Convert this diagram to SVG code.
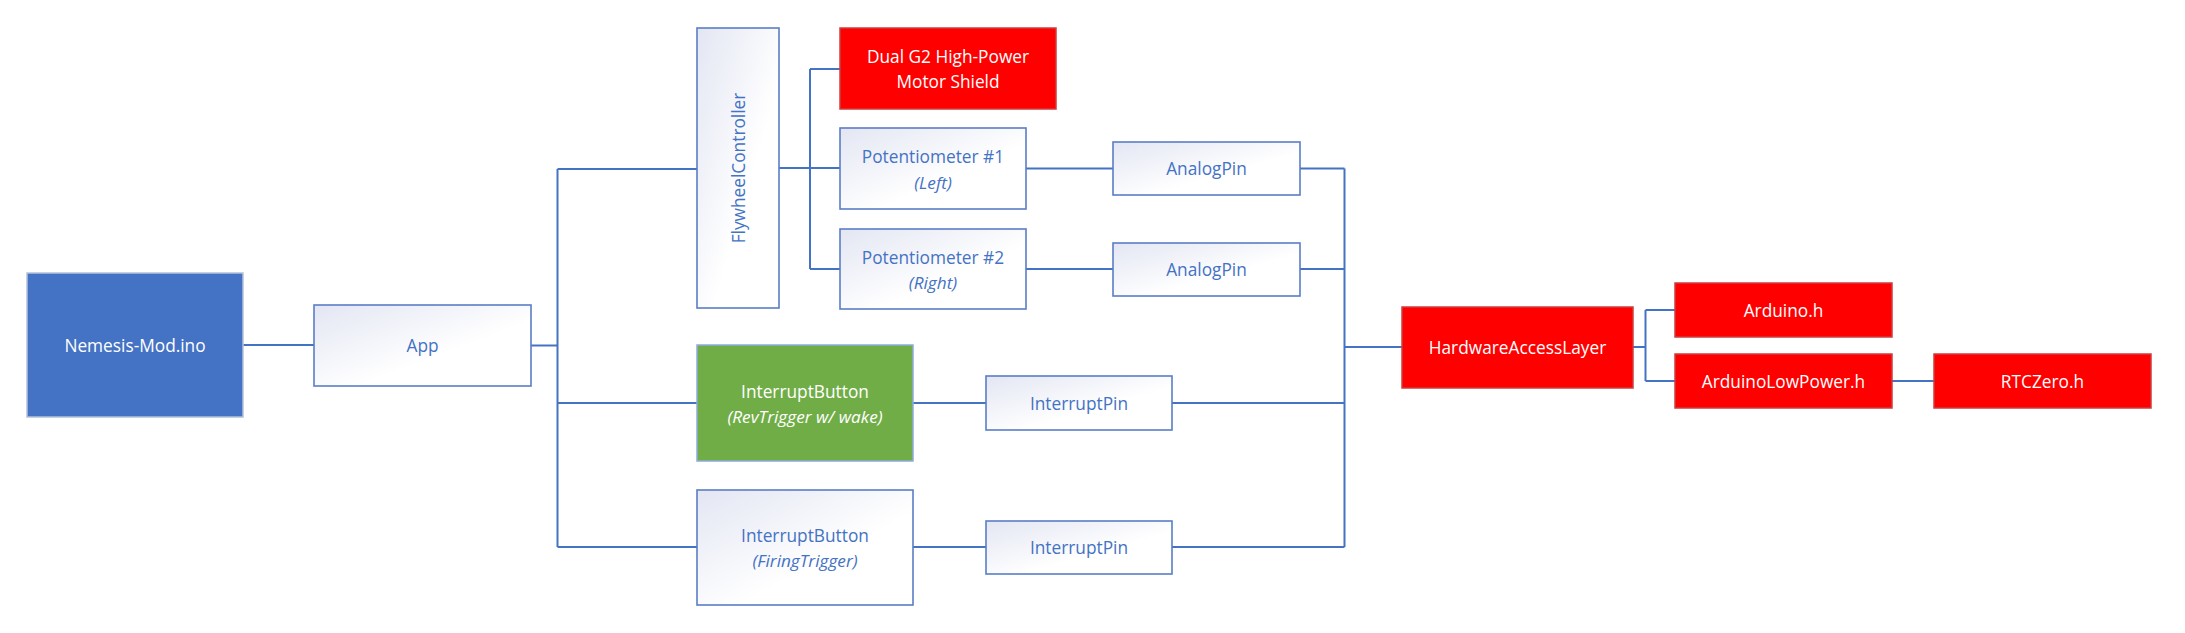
<svg xmlns="http://www.w3.org/2000/svg" width="2185" height="633" viewBox="0 0 2185 633">
<defs>
<linearGradient id="lg" x1="0" y1="0" x2="1" y2="1">
<stop offset="0" stop-color="#E3E6F3"/>
<stop offset="0.6" stop-color="#FFFFFF"/>
<stop offset="1" stop-color="#FFFFFF"/>
</linearGradient>
<style>
text{font-family:"Open Sans","Noto Sans","Liberation Sans",sans-serif;font-size:17.3px;text-anchor:middle;dominant-baseline:central}
.w rect{fill:url(#lg);stroke:#5A7EC6;stroke-width:1.6}
.w text{fill:#4472C4}
.r rect{fill:#FF0000;stroke:#D03C3C;stroke-width:1.5}
.r text,.g text,.b text{fill:#FFFFFF}
.g rect{fill:#70AD47;stroke:#8FAADC;stroke-width:1.5}
.b rect{fill:#4472C4;stroke:#B4C2DA;stroke-width:1.5}
.i{font-style:italic;font-size:17.2px}
#connectors path{fill:none;stroke:#4472C4;stroke-width:2}
</style>
</defs>
<rect width="2185" height="633" fill="#FFFFFF"/>
<g id="connectors">
<path d="M243,345 H314"/>
<path d="M531,345.5 H557.5"/>
<path d="M557.5,169 V547"/>
<path d="M557.5,169 H697"/>
<path d="M557.5,403 H697"/>
<path d="M557.5,547 H697"/>
<path d="M779,168 H810"/>
<path d="M810,69 V269"/>
<path d="M810,69 H840"/>
<path d="M810,168 H840"/>
<path d="M810,269 H840"/>
<path d="M1026,168.5 H1113"/>
<path d="M1026,269 H1113"/>
<path d="M1300,168.5 H1344.5"/>
<path d="M1300,269 H1344.5"/>
<path d="M913,403 H986"/>
<path d="M913,547 H986"/>
<path d="M1172,403 H1344.5"/>
<path d="M1172,547 H1344.5"/>
<path d="M1344.5,168.5 V547"/>
<path d="M1344.5,347 H1402"/>
<path d="M1633,347 H1645.5"/>
<path d="M1645.5,310 V381"/>
<path d="M1645.5,310 H1675"/>
<path d="M1645.5,381 H1675"/>
<path d="M1892,381 H1934"/>
</g>
<g id="nemesis" class="b"><rect x="27" y="273" width="216" height="144"/><text x="135" y="345">Nemesis-Mod.ino</text></g>
<g id="app" class="w"><rect x="314" y="305" width="217" height="81"/><text x="422.5" y="345.5">App</text></g>
<g id="flywheel" class="w"><rect x="697" y="28" width="82" height="280"/><text x="738" y="168" transform="rotate(-90 738 168)">FlywheelController</text></g>
<g id="motorshield" class="r"><rect x="840" y="28" width="216" height="81"/><text x="948" y="56.5">Dual G2 High-Power</text><text x="948" y="81">Motor Shield</text></g>
<g id="pot1" class="w"><rect x="840" y="128" width="186" height="81"/><text x="933" y="156.5">Potentiometer #1</text><text class="i" x="933" y="182.5">(Left)</text></g>
<g id="pot2" class="w"><rect x="840" y="229" width="186" height="80"/><text x="933" y="257">Potentiometer #2</text><text class="i" x="933" y="282.5">(Right)</text></g>
<g id="analogpin1" class="w"><rect x="1113" y="142" width="187" height="53"/><text x="1206.5" y="168.5">AnalogPin</text></g>
<g id="analogpin2" class="w"><rect x="1113" y="243" width="187" height="53"/><text x="1206.5" y="269.5">AnalogPin</text></g>
<g id="revbutton" class="g"><rect x="697" y="345" width="216" height="116"/><text x="805" y="391">InterruptButton</text><text class="i" x="805" y="416">(RevTrigger w/ wake)</text></g>
<g id="interruptpin1" class="w"><rect x="986" y="376" width="186" height="54"/><text x="1079" y="403">InterruptPin</text></g>
<g id="firebutton" class="w"><rect x="697" y="490" width="216" height="115"/><text x="805" y="535">InterruptButton</text><text class="i" x="805" y="560">(FiringTrigger)</text></g>
<g id="interruptpin2" class="w"><rect x="986" y="521" width="186" height="53"/><text x="1079" y="547.5">InterruptPin</text></g>
<g id="hal" class="r"><rect x="1402" y="307" width="231" height="81"/><text x="1517.5" y="347.5">HardwareAccessLayer</text></g>
<g id="arduino" class="r"><rect x="1675" y="283" width="217" height="54"/><text x="1783.5" y="310">Arduino.h</text></g>
<g id="lowpower" class="r"><rect x="1675" y="354" width="217" height="54"/><text x="1783.5" y="381">ArduinoLowPower.h</text></g>
<g id="rtczero" class="r"><rect x="1934" y="354" width="217" height="54"/><text x="2042.5" y="381">RTCZero.h</text></g>
</svg>
